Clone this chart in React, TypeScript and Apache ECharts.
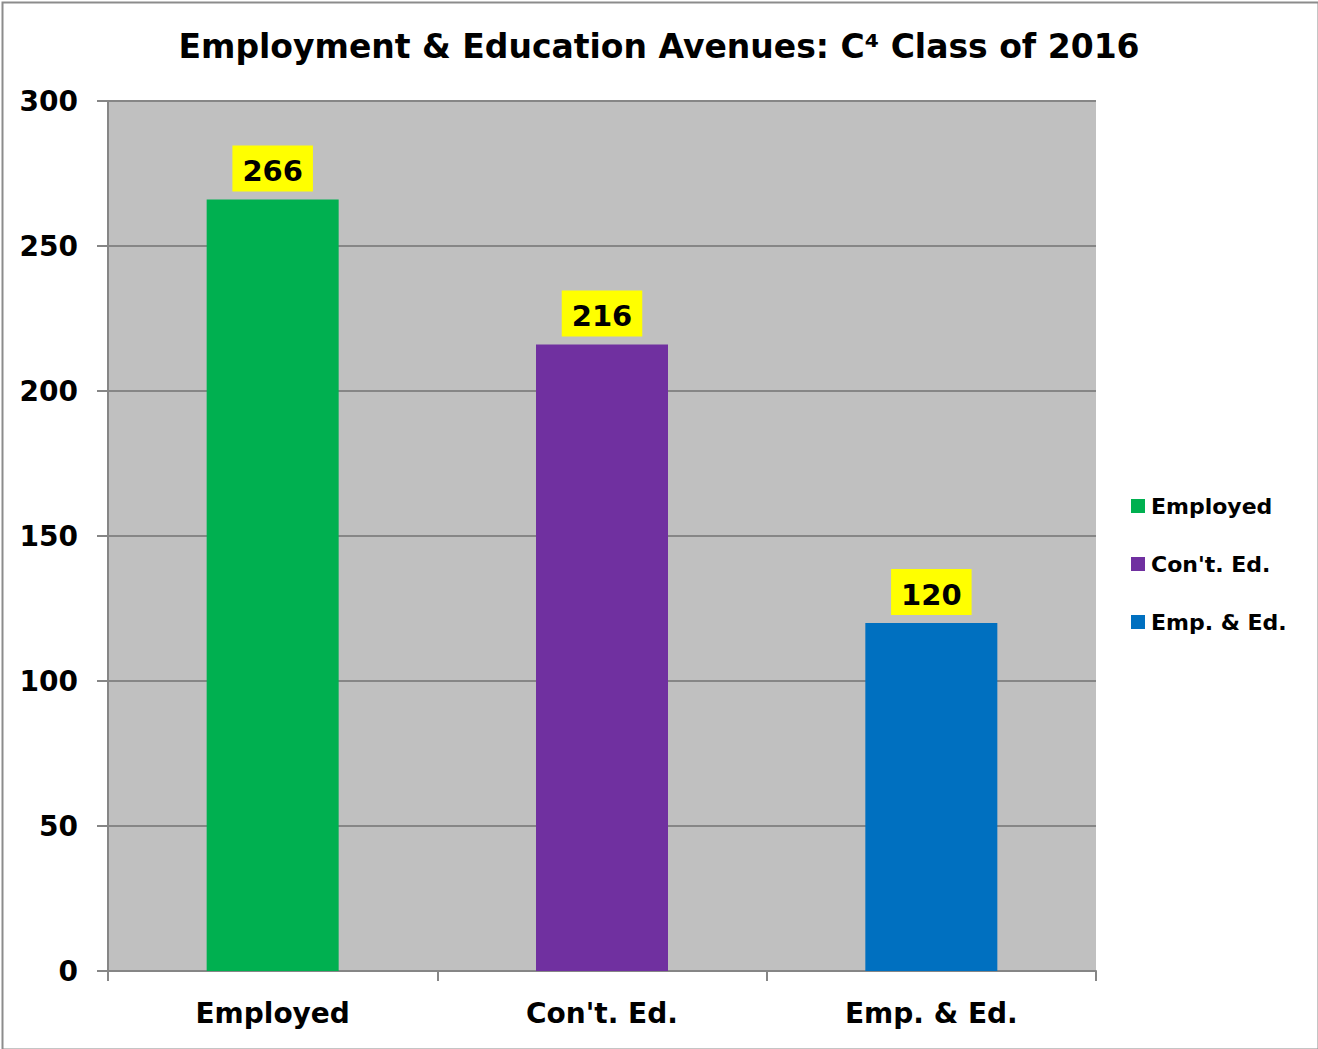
import React, { useEffect, useRef } from "react";
import * as echarts from "echarts";

const categories = ["Employed", "Con't. Ed.", "Emp. & Ed."];
const seriesNames = ["Employed", "Con't. Ed.", "Emp. & Ed."];
const values = [266, 216, 120];
const colors = ["#00B050", "#7030A0", "#0070C0"];
const titleText = "Employment & Education Avenues: C\u2074 Class of 2016";

export default function App() {
  const ref = useRef<HTMLDivElement>(null);
  useEffect(() => {
    if (!ref.current) return;
    const chart = echarts.init(ref.current, null, { renderer: "svg" });
    const font = "'DejaVu Sans', Verdana, sans-serif";
    const series = seriesNames.map((name, i) => ({
      name,
      type: "bar",
      stack: "all",
      barWidth: 132,
      data: categories.map((_, j) => (j === i ? values[i] : "-")),
      itemStyle: { color: colors[i] },
      label: {
        show: true,
        position: "top",
        distance: 8,
        backgroundColor: "#FFFF00",
        padding: [11, 10, 6, 10],
        color: "#000",
        fontFamily: font,
        fontWeight: "bold",
        fontSize: 29,
      },
    }));
    chart.setOption({
      animation: false,
      backgroundColor: "#fff",
      textStyle: { fontFamily: font },
      title: {
        text: titleText,
        left: "center",
        top: 25,
        textStyle: { fontFamily: font, fontWeight: "bold", fontSize: 33, color: "#000" },
      },
      legend: {
        orient: "vertical",
        left: 1131,
        top: 495,
        padding: 0,
        itemWidth: 14,
        itemHeight: 14,
        itemGap: 36,
        icon: "rect",
        data: seriesNames,
        textStyle: { fontFamily: font, fontWeight: "bold", fontSize: 22, color: "#000", lineHeight: 22, padding: [0, 0, 0, 1] },
      },
      grid: { left: 108, right: 222, top: 101, bottom: 78, show: true, backgroundColor: "#C0C0C0", borderWidth: 0 },
      xAxis: {
        type: "category",
        data: categories,
        axisLine: { lineStyle: { color: "#868686", width: 2 } },
        axisTick: { show: true, length: 10, lineStyle: { color: "#868686", width: 2 } },
        axisLabel: { color: "#000", fontFamily: font, fontWeight: "bold", fontSize: 28, margin: 28 },
      },
      yAxis: {
        type: "value",
        min: 0,
        max: 300,
        interval: 50,
        axisLine: { show: true, lineStyle: { color: "#868686", width: 2 } },
        axisTick: { show: true, length: 11, lineStyle: { color: "#868686", width: 2 } },
        splitLine: { lineStyle: { color: "#868686", width: 2 } },
        axisLabel: { color: "#000", fontFamily: font, fontWeight: "bold", fontSize: 28, margin: 30 },
      },
      graphic: [
        {
          type: "rect",
          left: 0,
          top: 0,
          shape: { x: 1, y: 1, width: 1316, height: 1047 },
          style: { fill: "none", stroke: "#8C8C8C", lineWidth: 2 },
          silent: true,
        },
      ],
      series,
    });
    return () => chart.dispose();
  }, []);
  return <div ref={ref} style={{ position: "absolute", left: 0, top: 0, width: 1318, height: 1049 }} />;
}
